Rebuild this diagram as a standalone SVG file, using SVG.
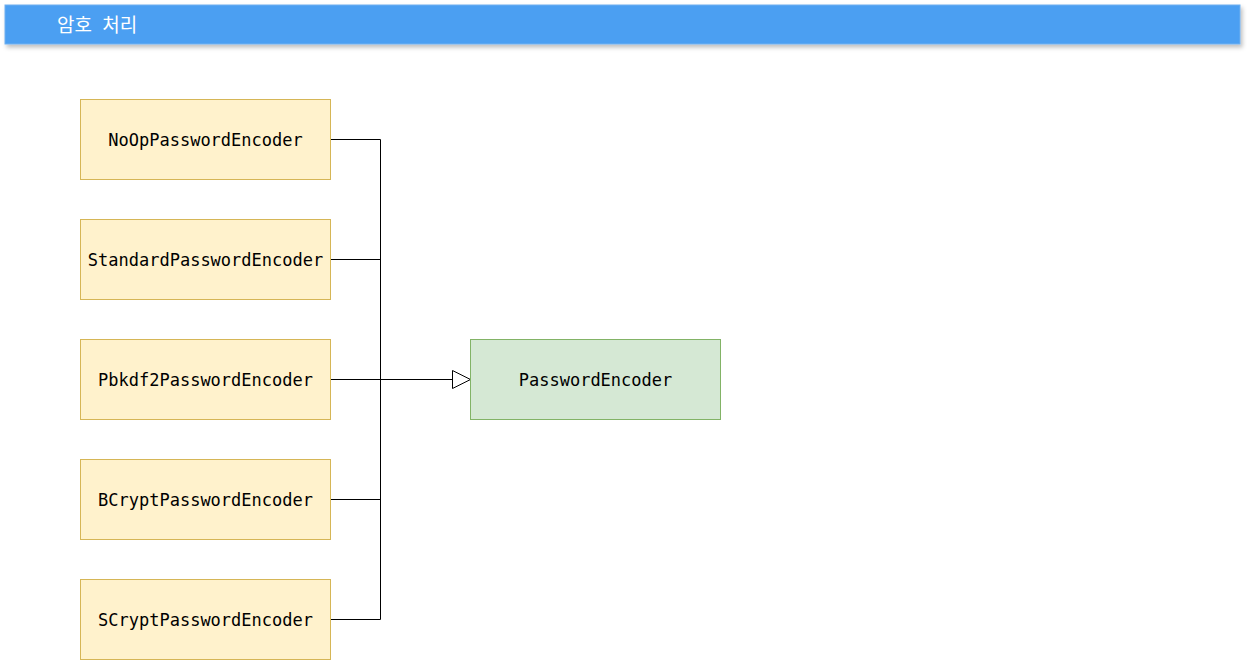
<svg xmlns="http://www.w3.org/2000/svg" width="1247" height="660" viewBox="0 0 1247 660">
<style>
.box{fill:#fff2cc;stroke:#d6b656;stroke-width:1}
.iface{fill:#d5e8d4;stroke:#82b366;stroke-width:1}
.lbl{font-family:"DejaVu Sans Mono","Liberation Mono",monospace;font-size:17px;fill:#000;text-anchor:middle;dominant-baseline:central}
.edge{fill:none;stroke:#000;stroke-width:1}
.title{font-family:"Noto Sans CJK KR","Noto Sans",sans-serif;font-size:19px;fill:#fff;word-spacing:6px}
</style>
<defs>
<filter id="sh" x="-5%" y="-50%" width="110%" height="200%">
<feDropShadow dx="2" dy="3" stdDeviation="2" flood-color="#000" flood-opacity="0.25"/>
</filter>
<marker id="tri" viewBox="0 0 20 20" refX="19" refY="10" markerWidth="20" markerHeight="20" markerUnits="userSpaceOnUse" orient="auto">
<path d="M1,1 L19,10 L1,19 Z" fill="#fff" stroke="#000" stroke-width="1"/>
</marker>
</defs>
<g id="header">
<rect x="5" y="5" width="1235" height="39" fill="#4c9ff2" stroke="#6fb0f0" stroke-width="1" filter="url(#sh)"/>
<text class="title" x="57" y="32">암호 처리</text>
</g>
<g id="connectors">
<path class="edge" d="M330.5,139.5 H380.5 V619.5 H330.5"/>
<path class="edge" d="M330.5,259.5 H380.5"/>
<path class="edge" d="M330.5,499.5 H380.5"/>
<path class="edge" d="M330.5,379.5 H470.5" marker-end="url(#tri)"/>
</g>
<g id="noop"><rect class="box" x="80.5" y="99.5" width="250" height="80"/><text class="lbl" x="205.5" y="139.5">NoOpPasswordEncoder</text></g>
<g id="standard"><rect class="box" x="80.5" y="219.5" width="250" height="80"/><text class="lbl" x="205.5" y="259.5">StandardPasswordEncoder</text></g>
<g id="pbkdf2"><rect class="box" x="80.5" y="339.5" width="250" height="80"/><text class="lbl" x="205.5" y="379.5">Pbkdf2PasswordEncoder</text></g>
<g id="bcrypt"><rect class="box" x="80.5" y="459.5" width="250" height="80"/><text class="lbl" x="205.5" y="499.5">BCryptPasswordEncoder</text></g>
<g id="scrypt"><rect class="box" x="80.5" y="579.5" width="250" height="80"/><text class="lbl" x="205.5" y="619.5">SCryptPasswordEncoder</text></g>
<g id="passwordencoder"><rect class="iface" x="470.5" y="339.5" width="250" height="80"/><text class="lbl" x="595.5" y="379.5">PasswordEncoder</text></g>
</svg>
